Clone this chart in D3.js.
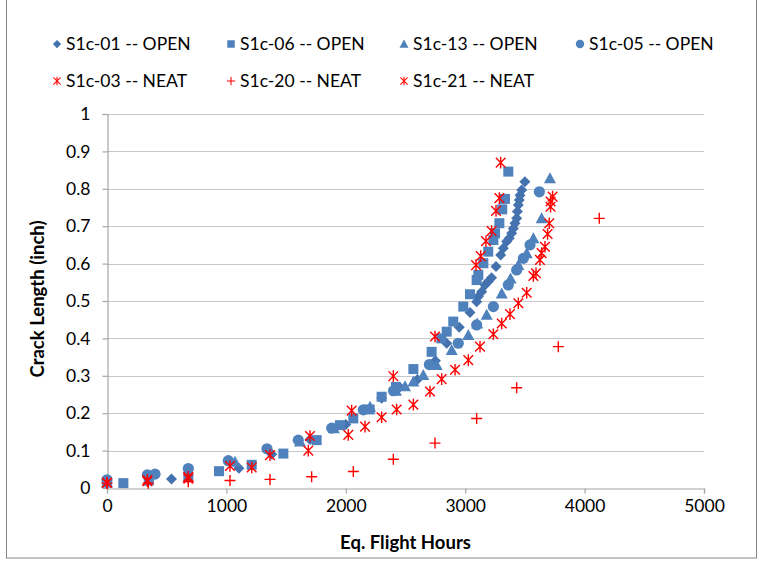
<!DOCTYPE html>
<html>
<head>
<meta charset="utf-8">
<script src="https://cdn.jsdelivr.net/npm/d3@7"></script>
<style>
  html, body { margin: 0; padding: 0; background: #fff; }
  svg { display: block; }
  text { font-family: Lato, "Open Sans", sans-serif; fill: #000; }
</style>
</head>
<body>
<svg id="chart" width="769" height="562"></svg>
<script>
// Crack growth measurements: [equivalent flight hours, crack length in inches]
const s1c01 = [[0,0.015],[540,0.024],[1105,0.053],[1380,0.09],[1700,0.13],[2000,0.17],[2300,0.24],[2450,0.27],[2600,0.29],[2750,0.34],[2845,0.387],[2950,0.43],[3040,0.469],[3096,0.498],[3110,0.512],[3138,0.525],[3166,0.543],[3193,0.552],[3221,0.562],[3258,0.592],[3297,0.623],[3319,0.641],[3347,0.659],[3369,0.668],[3389,0.681],[3403,0.694],[3417,0.708],[3431,0.721],[3437,0.739],[3445,0.757],[3453,0.770],[3459,0.783],[3473,0.797],[3500,0.819]];
const s1c06 = [[0,0.015],[137,0.013],[350,0.02],[681,0.029],[938,0.045],[1212,0.062],[1477,0.092],[1756,0.128],[1951,0.168],[2063,0.186],[2200,0.21],[2300,0.244],[2420,0.27],[2566,0.318],[2719,0.364],[2800,0.40],[2845,0.418],[2900,0.445],[2984,0.485],[3040,0.518],[3096,0.556],[3110,0.570],[3152,0.601],[3193,0.632],[3236,0.663],[3250,0.681],[3286,0.708],[3310,0.745],[3333,0.773],[3361,0.846]];
const s1c13 = [[0,0.015],[1072,0.07],[1616,0.124],[1900,0.16],[2203,0.217],[2420,0.26],[2496,0.272],[2566,0.285],[2649,0.302],[2761,0.329],[2887,0.369],[3026,0.409],[3100,0.44],[3180,0.463],[3306,0.520],[3380,0.56],[3445,0.596],[3515,0.628],[3571,0.668],[3640,0.721],[3710,0.828]];
const s1c05 = [[0,0.022],[338,0.035],[402,0.037],[681,0.052],[1016,0.073],[1340,0.105],[1602,0.128],[1882,0.160],[2147,0.209],[2400,0.26],[2700,0.33],[2942,0.387],[3096,0.436],[3236,0.485],[3361,0.543],[3431,0.583],[3487,0.614],[3543,0.650],[3621,0.792]];
const s1c03 = [[0,0.014],[338,0.021],[681,0.030],[1030,0.059],[1365,0.088],[1700,0.139],[2049,0.207],[2398,0.299],[2747,0.405],[3091,0.596],[3130,0.620],[3174,0.660],[3221,0.687],[3258,0.741],[3286,0.775],[3297,0.870]];
const s1c20 = [[0,0.013],[346,0.013],[681,0.017],[1030,0.020],[1365,0.023],[1714,0.030],[2063,0.044],[2398,0.077],[2747,0.120],[3096,0.186],[3431,0.268],[3780,0.378],[4123,0.721]];
const s1c21 = [[0,0.014],[338,0.018],[681,0.025],[1212,0.055],[1686,0.100],[2021,0.142],[2161,0.164],[2300,0.189],[2426,0.210],[2566,0.223],[2705,0.258],[2803,0.291],[2915,0.316],[3026,0.342],[3124,0.378],[3236,0.411],[3306,0.440],[3375,0.465],[3445,0.494],[3515,0.522],[3571,0.567],[3593,0.574],[3626,0.610],[3640,0.628],[3668,0.645],[3690,0.679],[3704,0.708],[3715,0.752],[3715,0.766],[3732,0.779]];

const seriesNames = ["S1c-01 -- OPEN","S1c-06 -- OPEN","S1c-13 -- OPEN","S1c-05 -- OPEN","S1c-03 -- NEAT","S1c-20 -- NEAT","S1c-21 -- NEAT"];
const xTicks = [0,1000,2000,3000,4000,5000];
const yTicks = [0,0.1,0.2,0.3,0.4,0.5,0.6,0.7,0.8,0.9,1];

const series = [
  { name: seriesNames[0], data: s1c01, shape: "diamond",  color: "#4472AE" },
  { name: seriesNames[1], data: s1c06, shape: "square",   color: "#4F81BD" },
  { name: seriesNames[2], data: s1c13, shape: "triangle", color: "#4F81BD" },
  { name: seriesNames[3], data: s1c05, shape: "circle",   color: "#4F81BD" },
  { name: seriesNames[4], data: s1c03, shape: "star",     color: "#FF0000" },
  { name: seriesNames[5], data: s1c20, shape: "plus",     color: "#FF0000" },
  { name: seriesNames[6], data: s1c21, shape: "star",     color: "#FF0000" }
];

const svg = d3.select("#chart");
const plot = { left: 107, right: 704, top: 114, bottom: 488 };

// Chart frame
svg.append("rect")
  .attr("x", 6.5).attr("y", -2).attr("width", 750).attr("height", 560)
  .attr("fill", "#fff").attr("stroke", "#868686").attr("stroke-width", 1);

const x = d3.scaleLinear().domain([0, 5000]).range([plot.left, plot.right]);
const y = d3.scaleLinear().domain([0, 1]).range([plot.bottom, plot.top]);

// Horizontal gridlines
svg.append("g").selectAll("line")
  .data(yTicks.filter(v => v > 0))
  .join("line")
  .attr("x1", plot.left).attr("x2", plot.right)
  .attr("y1", d => Math.round(y(d)) + 0.5).attr("y2", d => Math.round(y(d)) + 0.5)
  .attr("stroke", "#C8C8C8").attr("stroke-width", 1.2);

// Axes
const xAxis = svg.append("g")
  .attr("transform", `translate(0,${Math.round(plot.bottom) + 0.5})`)
  .call(d3.axisBottom(x).tickValues(xTicks).tickSize(5).tickPadding(6).tickFormat(d3.format("d")));
const yAxis = svg.append("g")
  .attr("transform", `translate(${plot.left + 0.5},0)`)
  .call(d3.axisLeft(y).tickValues(yTicks).tickSize(5).tickPadding(12).tickFormat(d => d === 0 ? "0" : d === 1 ? "1" : d3.format(".1f")(d)));

[xAxis, yAxis].forEach(g => {
  g.select(".domain").attr("stroke", "#A6A6A6").attr("stroke-width", 1.2);
  g.selectAll(".tick line").attr("stroke", "#A6A6A6").attr("stroke-width", 1.2);
  g.selectAll(".tick text").style("font-size", "17.5px").style("font-family", "Lato, sans-serif").attr("fill", "#000");
});

// Axis titles
svg.append("text")
  .attr("x", (plot.left + plot.right) / 2).attr("y", 549)
  .attr("text-anchor", "middle")
  .style("font-size", "18.5px").style("font-weight", "bold")
  .text("Eq. Flight Hours");
svg.append("text")
  .attr("transform", `translate(44,${(plot.top + plot.bottom) / 2 - 2}) rotate(-90)`)
  .attr("text-anchor", "middle")
  .style("font-size", "18.5px").style("font-weight", "bold")
  .text("Crack Length (inch)");

// Marker drawing
function drawMarker(g, shape, color) {
  switch (shape) {
    case "diamond":
      g.append("path").attr("d", "M0,-5.5L5.5,0L0,5.5L-5.5,0Z").attr("fill", color);
      break;
    case "square":
      g.append("rect").attr("x", -5).attr("y", -5).attr("width", 10).attr("height", 10).attr("fill", color);
      break;
    case "triangle":
      g.append("path").attr("d", "M0,-6L6,5L-6,5Z").attr("fill", color);
      break;
    case "circle":
      g.append("circle").attr("r", 5.6).attr("fill", color);
      break;
    case "star":
      g.append("path").attr("d", "M-4.8,-4.8L4.8,4.8M4.8,-4.8L-4.8,4.8M0,-5.8L0,5.8")
        .attr("stroke", color).attr("stroke-width", 1.4).attr("fill", "none");
      break;
    case "plus":
      g.append("path").attr("d", "M-5.5,0L5.5,0M0,-5.5L0,5.5")
        .attr("stroke", color).attr("stroke-width", 1.4).attr("fill", "none");
      break;
  }
}

// Points
series.forEach(s => {
  const g = svg.append("g");
  g.selectAll("g")
    .data(s.data)
    .join("g")
    .attr("transform", d => `translate(${x(d[0])},${y(d[1])})`)
    .each(function () { drawMarker(d3.select(this), s.shape, s.color); });
});

// Legend: two rows of four
const legendCols = [57, 231, 404, 580];
const legendRows = [44, 81];
series.forEach((s, i) => {
  const cx = legendCols[i % 4], cy = legendRows[Math.floor(i / 4)];
  const g = svg.append("g").attr("transform", `translate(${cx},${cy})`);
  const m = g.append("g").attr("transform", "scale(0.75)");
  drawMarker(m, s.shape, s.color);
  g.append("text").attr("x", 9).attr("y", 6)
    .style("font-size", "17.5px")
    .text(s.name);
});
</script>
</body>
</html>
